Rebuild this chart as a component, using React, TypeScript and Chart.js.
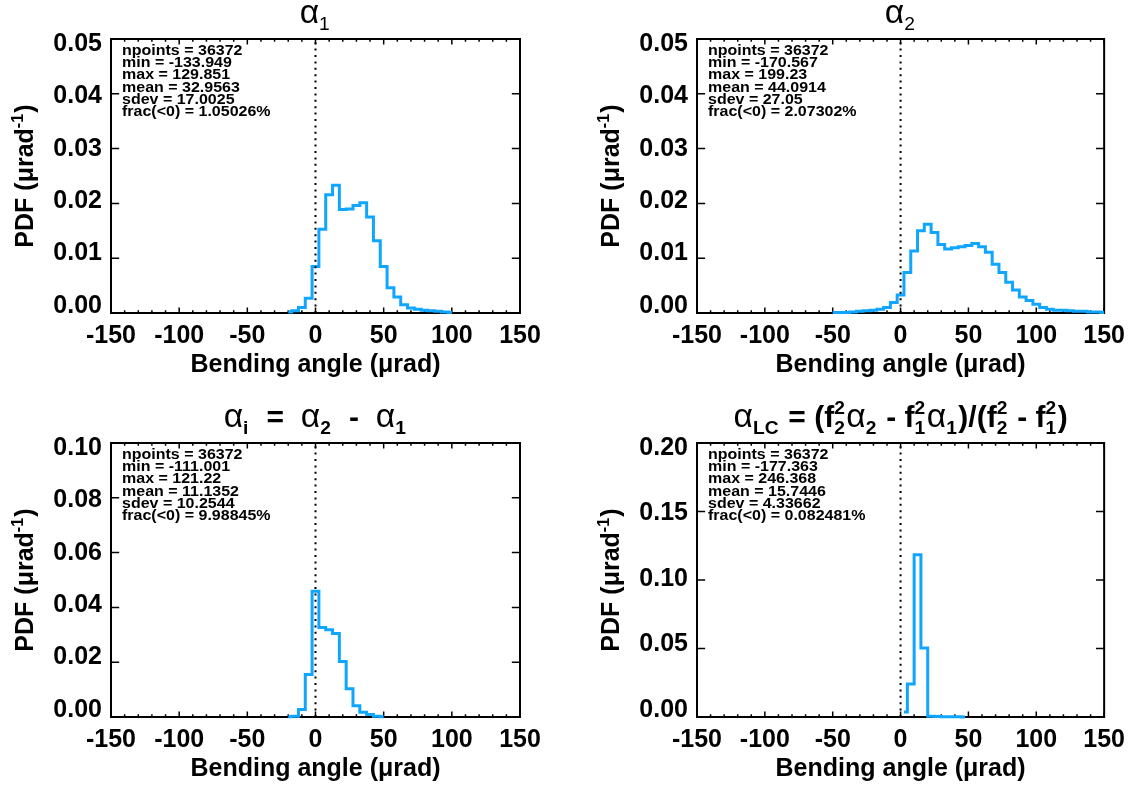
import React, { useEffect, useRef } from 'react';
import { Chart, registerables } from 'chart.js';

Chart.register(...registerables);

const FAMILY = "'Liberation Sans', Arial, Helvetica, sans-serif";
const LINE_COLOR = '#10a6ff';

// ---------- data ----------
const xTickValues = [-150, -100, -50, 0, 50, 100, 150];

const alpha1Bins = [-20, -15, -10, -5, 0, 5, 10, 15, 20, 25, 30, 35, 40, 45, 50, 55, 60, 65, 70, 75, 80, 85, 90, 95, 100];
const alpha1Pdf = [0.0002, 0.0004, 0.0010, 0.0027, 0.0085, 0.0153, 0.0216, 0.0233, 0.0189, 0.0190, 0.0196, 0.0201, 0.0175, 0.0132, 0.0085, 0.0046, 0.0029, 0.0015, 0.0009, 0.0007, 0.0005, 0.0004, 0.0003, 0.0002, 0.0001];
const alpha1Stats = ['npoints = 36372', 'min = -133.949', 'max = 129.851', 'mean = 32.9563', 'sdev = 17.0025', 'frac(<0) = 1.05026%'];
const alpha1YTicks = [0, 0.01, 0.02, 0.03, 0.04, 0.05];

const alpha2Bins = [-50, -45, -40, -35, -30, -25, -20, -15, -10, -5, 0, 5, 10, 15, 20, 25, 30, 35, 40, 45, 50, 55, 60, 65, 70, 75, 80, 85, 90, 95, 100, 105, 110, 115, 120, 125, 130, 135, 140, 145, 150];
const alpha2Pdf = [0.0001, 0.0001, 0.0001, 0.0002, 0.0003, 0.0004, 0.0005, 0.0007, 0.0010, 0.0019, 0.0033, 0.0074, 0.0113, 0.0150, 0.0162, 0.0147, 0.0125, 0.0117, 0.0119, 0.0121, 0.0123, 0.0127, 0.0121, 0.0111, 0.0089, 0.0074, 0.0056, 0.0042, 0.0029, 0.0023, 0.0016, 0.0010, 0.0007, 0.0005, 0.0005, 0.0004, 0.0003, 0.0003, 0.0002, 0.0002, 0.0001];
const alpha2Stats = ['npoints = 36372', 'min = -170.567', 'max = 199.23', 'mean = 44.0914', 'sdev = 27.05', 'frac(<0) = 2.07302%'];
const alpha2YTicks = [0, 0.01, 0.02, 0.03, 0.04, 0.05];

const alphaIBins = [-20, -15, -10, -5, 0, 5, 10, 15, 20, 25, 30, 35, 40, 45, 50];
const alphaIPdf = [0.0001, 0.0003, 0.0027, 0.0155, 0.0459, 0.0327, 0.0318, 0.0305, 0.0203, 0.0103, 0.0041, 0.0017, 0.0009, 0.0003, 0.0001];
const alphaIStats = ['npoints = 36372', 'min = -111.001', 'max = 121.22', 'mean = 11.1352', 'sdev = 10.2544', 'frac(<0) = 9.98845%'];
const alphaIYTicks = [0, 0.02, 0.04, 0.06, 0.08, 0.10];

const alphaLCBins = [2.5, 7.5, 12.5, 17.5, 22.5, 27.5, 32.5, 37.5, 42.5, 47.5];
const alphaLCPdf = [0.0037, 0.0241, 0.1185, 0.0504, 0.0005, 0.0003, 0.0002, 0.0001, 0.0001, 0.0000];
const alphaLCStats = ['npoints = 36372', 'min = -177.363', 'max = 246.368', 'mean = 15.7446', 'sdev = 4.33662', 'frac(<0) = 0.082481%'];
const alphaLCYTicks = [0, 0.05, 0.10, 0.15, 0.20];

type Seg = { t: string; w?: string; k?: number; sub?: string; sup?: string };

const alpha1Title: Seg[] = [{ t: 'α', k: 1.12, sub: '1' }];
const alpha2Title: Seg[] = [{ t: 'α', k: 1.12, sub: '2' }];
const alphaITitle: Seg[] = [
  { t: 'α', w: 'normal', k: 1.12, sub: 'i' }, { t: '  =  ' }, { t: 'α', w: 'normal', k: 1.12, sub: '2' }, { t: '  -  ' },
  { t: 'α', w: 'normal', k: 1.12, sub: '1' },
];
const alphaLCTitle: Seg[] = [
  { t: 'α', w: 'normal', k: 1.12, sub: 'LC' }, { t: ' = (f', sup: '2', sub: '2' }, { t: 'α', w: 'normal', k: 1.12, sub: '2' },
  { t: ' - f', sup: '2', sub: '1' }, { t: 'α', w: 'normal', k: 1.12, sub: '1' }, { t: ')/(f', sup: '2', sub: '2' },
  { t: ' - f', sup: '2', sub: '1' }, { t: ')' },
];
const yTitle: Seg[] = [{ t: 'PDF (μrad', sup: '-1' }, { t: ')' }];
const xTitle = 'Bending angle (μrad)';

// ---------- drawing helpers ----------
const fnt = (size: number, w: string) => `${w} ${size}px ${FAMILY}`;
const SCRIPT_K = 0.64;

function segWidths(ctx: CanvasRenderingContext2D, s: Seg, size: number, defW: string, scriptW: string) {
  ctx.font = fnt(size * (s.k ?? 1), s.w ?? defW);
  const main = ctx.measureText(s.t).width;
  ctx.font = fnt(size * SCRIPT_K, scriptW);
  let sc = 0;
  if (s.sub) sc = Math.max(sc, ctx.measureText(s.sub).width);
  if (s.sup) sc = Math.max(sc, ctx.measureText(s.sup).width);
  return { main, sc: sc ? sc + size * 0.05 : 0 };
}

function drawRich(ctx: CanvasRenderingContext2D, segs: Seg[], x: number, y: number, size: number, defW: string, scriptW: string, align: string) {
  let total = 0;
  for (const s of segs) { const m = segWidths(ctx, s, size, defW, scriptW); total += m.main + m.sc; }
  let cx = align === 'center' ? x - total / 2 : x;
  ctx.textAlign = 'left';
  ctx.textBaseline = 'alphabetic';
  for (const s of segs) {
    const m = segWidths(ctx, s, size, defW, scriptW);
    ctx.font = fnt(size * (s.k ?? 1), s.w ?? defW);
    ctx.fillText(s.t, cx, y);
    cx += m.main;
    ctx.font = fnt(size * SCRIPT_K, scriptW);
    if (s.sub) ctx.fillText(s.sub, cx, y + size * 0.22);
    if (s.sup) ctx.fillText(s.sup, cx, y - size * 0.42);
    cx += m.sc;
  }
}

const decorPlugin = {
  id: 'decor',
  beforeDatasetsDraw(chart: any, _args: any, opts: any) {
    const { ctx, chartArea: a, scales } = chart;
    const xs = scales.x, ys = scales.y;
    const w = a.right - a.left, h = a.bottom - a.top;
    ctx.save();
    ctx.strokeStyle = '#000';
    ctx.lineWidth = 2;
    ctx.strokeRect(a.left, a.top, w, h);
    ctx.lineWidth = 1.5;
    ctx.beginPath();
    for (let v = xs.min; v <= xs.max + 1e-9; v += 10) {
      const px = xs.getPixelForValue(v);
      const len = Math.abs(v % 50) < 1e-9 ? 0.02 * h : 0.01 * h;
      ctx.moveTo(px, a.bottom); ctx.lineTo(px, a.bottom - len);
      ctx.moveTo(px, a.top); ctx.lineTo(px, a.top + len);
    }
    for (const tv of opts.yTicks as number[]) {
      const py = ys.getPixelForValue(tv);
      ctx.moveTo(a.left, py); ctx.lineTo(a.left + 0.02 * w, py);
      ctx.moveTo(a.right, py); ctx.lineTo(a.right - 0.02 * w, py);
    }
    ctx.stroke();
    ctx.restore();
  },
  afterDraw(chart: any, _args: any, opts: any) {
    const { ctx, chartArea: a } = chart;
    ctx.save();
    ctx.fillStyle = '#000';
    // panel title
    drawRich(ctx, opts.title, (a.left + a.right) / 2, a.top - 16, 30, opts.titleWeight, opts.titleWeight, 'center');
    // statistics (tight IDL-style line spacing)
    ctx.textAlign = 'left';
    ctx.textBaseline = 'middle';
    opts.stats.forEach((line: string, i: number) => {
      ctx.save();
      ctx.translate(a.left + 11, a.top + 12 + i * 12.3);
      ctx.scale(1, 0.88);
      ctx.font = fnt(16, 'bold');
      ctx.fillText(line, 0, 0);
      ctx.restore();
    });
    // y title (rotated)
    ctx.translate(a.left - 78, (a.top + a.bottom) / 2);
    ctx.rotate(-Math.PI / 2);
    drawRich(ctx, yTitle, 0, 0, 25, 'bold', 'bold', 'center');
    ctx.restore();
  },
};

// ---------- panels ----------
const PANELS = [
  { bins: alpha1Bins, pdf: alpha1Pdf, stats: alpha1Stats, yTicks: alpha1YTicks, title: alpha1Title, titleWeight: 'normal',
    canvas: { x: 0, y: 0, w: 566, h: 392 }, area: { l: 111, t: 39, r: 520, b: 313 } },
  { bins: alpha2Bins, pdf: alpha2Pdf, stats: alpha2Stats, yTicks: alpha2YTicks, title: alpha2Title, titleWeight: 'normal',
    canvas: { x: 566, y: 0, w: 567, h: 392 }, area: { l: 697, t: 39, r: 1107, b: 313 } },
  { bins: alphaIBins, pdf: alphaIPdf, stats: alphaIStats, yTicks: alphaIYTicks, title: alphaITitle, titleWeight: 'bold',
    canvas: { x: 0, y: 392, w: 566, h: 393 }, area: { l: 111, t: 443, r: 520, b: 717 } },
  { bins: alphaLCBins, pdf: alphaLCPdf, stats: alphaLCStats, yTicks: alphaLCYTicks, title: alphaLCTitle, titleWeight: 'bold',
    canvas: { x: 566, y: 392, w: 567, h: 393 }, area: { l: 697, t: 443, r: 1107, b: 717 } },
];

const Y_AXIS_W = 80;
const AXIS_FONT = { family: FAMILY, size: 25, weight: 'bold' as const };
// y tick labels sit slightly inside the frame ends (as in the original IDL output)
const LABEL_INSET_TOP = 5;
const LABEL_INSET_BOTTOM = 7;

function Panel({ p }: { p: typeof PANELS[number] }) {
  const ref = useRef<HTMLCanvasElement>(null);
  useEffect(() => {
    const { canvas: c, area } = p;
    const yMax = p.yTicks[p.yTicks.length - 1];
    const titleLH = AXIS_FONT.size * 1.2;
    const xTitlePadBottom = (c.y + c.h) - (area.b + 52) - titleLH / 2;
    const hpx = area.b - area.t;
    const perPx = yMax / (hpx - LABEL_INSET_TOP - LABEL_INSET_BOTTOM);
    const chart = new Chart(ref.current as HTMLCanvasElement, {
      type: 'line',
      data: {
        datasets: [
          {
            data: [{ x: 0, y: 0 }, { x: 0, y: yMax }],
            borderColor: '#000', borderWidth: 2, borderDash: [2, 4.4], pointRadius: 0, fill: false,
          },
          {
            data: p.bins.map((x, i) => ({ x, y: p.pdf[i] })),
            stepped: 'middle', borderColor: LINE_COLOR, borderWidth: 3, pointRadius: 0, fill: false, clip: false as any,
          },
        ],
      },
      options: {
        responsive: false,
        animation: false,
        devicePixelRatio: 1,
        layout: { padding: { left: area.l - c.x - Y_AXIS_W, top: area.t - c.y, right: c.x + c.w - area.r, bottom: 0 } },
        plugins: {
          legend: { display: false },
          tooltip: { enabled: false },
          decor: { title: p.title, titleWeight: p.titleWeight, stats: p.stats, yTicks: p.yTicks },
        } as any,
        scales: {
          x: {
            type: 'linear', position: 'bottom', min: -150, max: 150,
            afterBuildTicks: (s: any) => { s.ticks = xTickValues.map((v) => ({ value: v })); },
            afterFit: (s: any) => { s.height = c.y + c.h - area.b; },
            ticks: { font: AXIS_FONT, color: '#000', padding: 8, maxRotation: 0, minRotation: 0, autoSkip: false, callback: (v: any) => String(v) },
            grid: { display: false, drawTicks: false },
            border: { display: false },
            title: { display: true, text: xTitle, font: AXIS_FONT, color: '#000', padding: { top: 0, bottom: xTitlePadBottom } },
          },
          y: {
            type: 'linear', position: 'left', min: 0, max: yMax, display: false,
            afterBuildTicks: (s: any) => { s.ticks = p.yTicks.map((v) => ({ value: v })); },
          },
          yl: {
            type: 'linear', position: 'left',
            min: -LABEL_INSET_BOTTOM * perPx, max: yMax + LABEL_INSET_TOP * perPx,
            afterBuildTicks: (s: any) => { s.ticks = p.yTicks.map((v) => ({ value: v })); },
            afterFit: (s: any) => { s.width = Y_AXIS_W; },
            ticks: { font: AXIS_FONT, color: '#000', padding: 9, autoSkip: false, callback: (v: any) => Number(v).toFixed(2) },
            grid: { display: false, drawTicks: false },
            border: { display: false },
          },
        },
      },
      plugins: [decorPlugin],
    } as any);
    return () => chart.destroy();
  }, [p]);
  return (
    <canvas
      ref={ref}
      width={p.canvas.w}
      height={p.canvas.h}
      style={{ position: 'absolute', left: p.canvas.x, top: p.canvas.y, width: p.canvas.w, height: p.canvas.h }}
    />
  );
}

export default function App() {
  return (
    <div style={{ position: 'absolute', left: 0, top: 0, width: 1133, height: 785, overflow: 'hidden', background: '#fff' }}>
      {PANELS.map((p, i) => <Panel key={i} p={p} />)}
    </div>
  );
}
